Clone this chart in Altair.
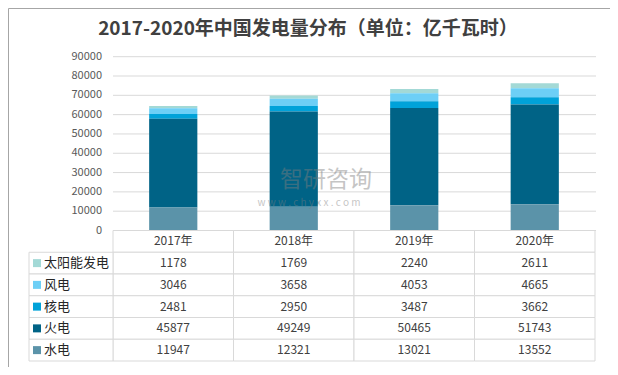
import altair as alt
import pandas as pd

# ---------------- data ----------------
years = ["2017年", "2018年", "2019年", "2020年"]
series = ["太阳能发电", "风电", "核电", "火电", "水电"]
solar = [1178, 1769, 2240, 2611]
wind = [3046, 3658, 4053, 4665]
nuclear = [2481, 2950, 3487, 3662]
thermal = [45877, 49249, 50465, 51743]
hydro = [11947, 12321, 13021, 13552]
colors = ["#a3d9d6", "#6dcff6", "#00a2d9", "#006386", "#5b93a9"]
y_ticks = [0, 10000, 20000, 30000, 40000, 50000, 60000, 70000, 80000, 90000]
title_text = "2017-2020年中国发电量分布（单位：亿千瓦时）"

values_by_series = [solar, wind, nuclear, thermal, hydro]

rows = []
for si, (name, vals) in enumerate(zip(series, values_by_series)):
    for yi, yr in enumerate(years):
        rows.append({"year": yr, "series": name, "value": vals[yi],
                     "order": len(series) - 1 - si, "label": str(vals[yi])})
df = pd.DataFrame(rows)

row_domain = ["header"] + series
cells = []
for yr in years:
    cells.append({"year": yr, "row": "header", "label": yr})
for r in rows:
    cells.append({"year": r["year"], "row": r["series"], "label": r["label"]})
cells_df = pd.DataFrame(cells)
labels_df = pd.DataFrame({"row": series, "series": series})
ticks_df = pd.DataFrame({"tick": y_ticks})

FONT = "Noto Sans CJK SC"

# ---------------- scales ----------------
x_bar = alt.Scale(domain=years, range=[105, 587], paddingInner=0.6, paddingOuter=0.3)
x_tab = alt.Scale(domain=years, range=[105, 587], paddingInner=0, paddingOuter=0)
y_val = alt.Scale(domain=[0, 90000], range=[222.5, 48.7], nice=False, zero=True)
y_row = alt.Scale(domain=row_domain, range=[222.5, 353], paddingInner=0, paddingOuter=0)
col_scale = alt.Scale(domain=series, range=colors)

grid = alt.Chart(ticks_df).mark_rule(color="#d9d9d9", strokeWidth=1).encode(
    y=alt.Y("tick:Q", scale=y_val, axis=None),
    x=alt.value(105), x2=alt.value(588),
)

ylabels = alt.Chart(ticks_df).mark_text(align="right", baseline="middle", font=FONT,
                                        fontSize=11, color="#595959").encode(
    y=alt.Y("tick:Q", scale=y_val, axis=None),
    x=alt.value(94),
    text=alt.Text("tick:Q", format="d"),
)

bars = alt.Chart(df).mark_bar().encode(
    x=alt.X("year:N", scale=x_bar, axis=None),
    y=alt.Y("value:Q", scale=y_val, axis=None, stack="zero"),
    color=alt.Color("series:N", scale=col_scale, legend=None),
    order=alt.Order("order:Q", sort="ascending"),
)

cell_rects = alt.Chart(cells_df).mark_rect(fill="white", stroke="#d9d9d9", strokeWidth=1).encode(
    x=alt.X("year:N", scale=x_tab, axis=None),
    y=alt.Y("row:N", scale=y_row, axis=None),
)

label_rects = alt.Chart(labels_df).mark_rect(fill="white", stroke="#d9d9d9", strokeWidth=1).encode(
    y=alt.Y("row:N", scale=y_row, axis=None),
    x=alt.value(21), x2=alt.value(105),
)

cell_text = alt.Chart(cells_df).mark_text(font=FONT, fontSize=12, color="#404040",
                                          baseline="middle").encode(
    x=alt.X("year:N", scale=x_tab, axis=None),
    y=alt.Y("row:N", scale=y_row, axis=None),
    text="label:N",
)

squares = alt.Chart(labels_df).mark_square(size=64, opacity=1).encode(
    y=alt.Y("row:N", scale=y_row, axis=None),
    x=alt.value(29),
    color=alt.Color("series:N", scale=col_scale, legend=None),
)

names = alt.Chart(labels_df).mark_text(font=FONT, fontSize=13, color="#262626",
                                       align="left", baseline="middle").encode(
    y=alt.Y("row:N", scale=y_row, axis=None),
    x=alt.value(36),
    text="series:N",
)

title = alt.Chart(pd.DataFrame({"t": [title_text]})).mark_text(
    font=FONT, fontSize=19, fontWeight="bold", color="#404040",
    align="center", baseline="middle").encode(
    x=alt.value(300), y=alt.value(21), text="t:N")

wm1 = alt.Chart(pd.DataFrame({"t": ["智研咨询"]})).mark_text(
    font=FONT, fontSize=23, color="#7f7f7f", opacity=0.45,
    align="center", baseline="middle").encode(
    x=alt.value(318), y=alt.value(172), text="t:N")
wm2 = alt.Chart(pd.DataFrame({"t": ["w w w . c h y x x . c o m"]})).mark_text(
    font=FONT, fontSize=10, color="#7f7f7f", opacity=0.45,
    align="center", baseline="middle").encode(
    x=alt.value(301), y=alt.value(195), text="t:N")

chart = alt.layer(
    grid, ylabels, bars, cell_rects, label_rects, cell_text, squares, names, title, wm1, wm2
).resolve_scale(
    x="independent", y="independent"
).properties(
    width=602, height=359, padding=0,
    autosize=alt.AutoSizeParams(type="none"),
).configure_view(
    stroke="#a6a6a6", strokeWidth=1
)

chart.save("out.html", embed_options={"renderer": "svg", "actions": False})
